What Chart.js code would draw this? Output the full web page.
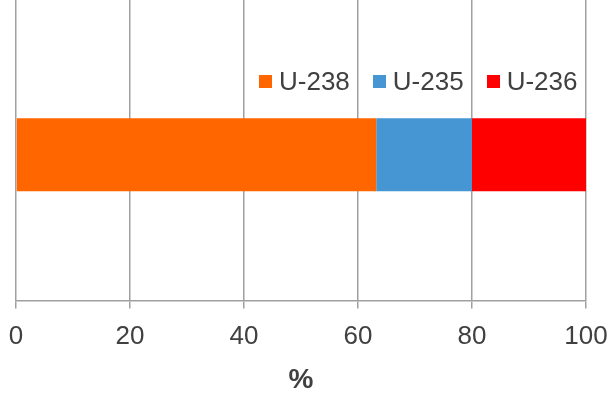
<!DOCTYPE html>
<html>
<head>
<meta charset="utf-8">
<script src="https://cdn.jsdelivr.net/npm/chart.js@4.4.1/dist/chart.umd.min.js"></script>
<style>
  html, body { margin: 0; padding: 0; background: #ffffff; }
  #wrap { position: relative; width: 609px; height: 394px; }
  #legend {
    position: absolute; left: 259px; top: 68px;
    display: flex; align-items: center;
    font-family: 'Liberation Sans', Arial, sans-serif;
    font-size: 26px; line-height: 26px; color: #404040;
  }
  #legend .item { display: flex; align-items: center; margin-right: 23px; }
  #legend .box { width: 13px; height: 13px; margin-right: 7px; }
</style>
</head>
<body>
<div id="wrap">
  <canvas id="chart" width="609" height="394"></canvas>
  <div id="legend"></div>
</div>
<script>
'use strict';

var CATEGORIES   = ['Uranium'];
var SERIES_NAMES = ['U-238', 'U-235', 'U-236'];
var U238_VALUES  = [63.2];
var U235_VALUES  = [16.8];
var U236_VALUES  = [20.0];
var SERIES_COLORS = ['#ff6600', '#4596d2', '#ff0000'];

var X_MIN = 0, X_MAX = 100, X_STEP = 20;
var AXIS_TITLE = '%';

var FONT = "'Liberation Sans', Arial, sans-serif";
var TEXT = '#404040';
var GRID = '#a0a0a0';

var seriesValues = [U238_VALUES, U235_VALUES, U236_VALUES];

var datasets = SERIES_NAMES.map(function(name, i) {
  return {
    label:           name,
    data:            seriesValues[i],
    backgroundColor: SERIES_COLORS[i],
    borderWidth:     0,
    categoryPercentage: 1,
    barPercentage:   0.251,
  };
});

var ctx = document.getElementById('chart').getContext('2d');

var chart = new Chart(ctx, {
  type: 'bar',
  data: { labels: CATEGORIES, datasets: datasets },
  options: {
    indexAxis:  'y',
    responsive: false,
    animation:  false,
    layout: { padding: { left: 16, right: 23, top: 0, bottom: 0 } },
    plugins: {
      legend:  { display: false },
      tooltip: { enabled: false },
    },
    scales: {
      x: {
        stacked: true,
        min: X_MIN,
        max: X_MAX,
        ticks: {
          stepSize: X_STEP,
          color:    TEXT,
          padding:  1,
          font:     { family: FONT, size: 26, lineHeight: 2.1 },
        },
        grid: {
          color:      GRID,
          lineWidth:  1.5,
          tickLength: 8,
        },
        border: { color: GRID, width: 1.5 },
        title: {
          display: true,
          text:    AXIS_TITLE,
          color:   TEXT,
          font:    { family: FONT, size: 28, weight: 'bold', lineHeight: 1 },
          padding: { top: 1, bottom: 0 },
        },
      },
      // top strip: only carries the gridlines up to the canvas edge
      xTop: {
        type:     'linear',
        position: 'top',
        min: X_MIN,
        max: X_MAX,
        ticks:  { stepSize: X_STEP, display: false },
        grid:   { color: GRID, lineWidth: 1.5, tickLength: 9, drawOnChartArea: false },
        border: { display: false },
      },
      y: {
        stacked: true,
        display: false,
      },
    },
  },
});

// legend built from the same series arrays
var legendEl = document.getElementById('legend');
SERIES_NAMES.forEach(function(name, i) {
  var item = document.createElement('div');
  item.className = 'item';
  if (i === SERIES_NAMES.length - 1) item.style.marginRight = '0';
  var box = document.createElement('span');
  box.className = 'box';
  box.style.background = SERIES_COLORS[i];
  var txt = document.createElement('span');
  txt.textContent = name;
  item.appendChild(box);
  item.appendChild(txt);
  legendEl.appendChild(item);
});
</script>
</body>
</html>
